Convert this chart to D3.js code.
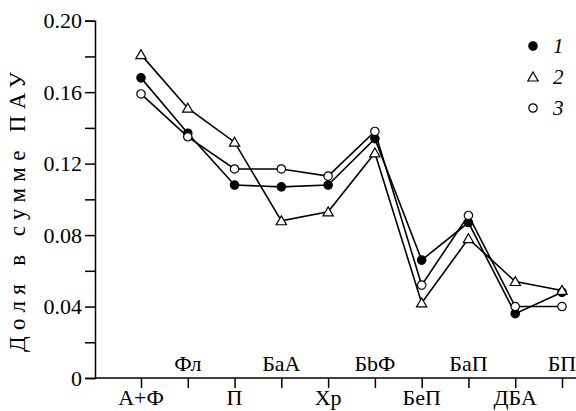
<!DOCTYPE html>
<html>
<head>
<meta charset="utf-8">
<script src="https://cdn.jsdelivr.net/npm/d3@7"></script>
<style>
  body { margin: 0; background: #fff; }
  svg { display: block; }
  svg text { font-family: 'Liberation Serif', 'DejaVu Serif', serif !important; fill: #000; }
</style>
</head>
<body>
<svg></svg>
<script>
var categories = ['А+Ф', 'Фл', 'П', 'БаА', 'Хр', 'БbФ', 'БеП', 'БаП', 'ДБА', 'БП'];
var series1 = [0.168, 0.137, 0.108, 0.107, 0.108, 0.134, 0.066, 0.087, 0.036, 0.048];
var series2 = [0.181, 0.151, 0.132, 0.088, 0.093, 0.126, 0.042, 0.078, 0.054, 0.049];
var series3 = [0.159, 0.135, 0.117, 0.117, 0.113, 0.138, 0.052, 0.091, 0.040, 0.040];
var seriesNames = ['1', '2', '3'];
var yMajorTicks = [0, 0.04, 0.08, 0.12, 0.16, 0.20];
var yTickLabels = ['0', '0.04', '0.08', '0.12', '0.16', '0.20'];
var yMinorTicks = [0.02, 0.06, 0.10, 0.14, 0.18];

var width = 576, height = 411;
var svg = d3.select('svg').attr('width', width).attr('height', height);

var x = d3.scalePoint()
  .domain(categories)
  .range([141, 562]);

var y = d3.scaleLinear()
  .domain([0, 0.2])
  .range([378, 20.7]);

// y axis
var yAxis = svg.append('g')
  .attr('transform', 'translate(95,0)')
  .call(d3.axisLeft(y).tickValues(yMajorTicks).tickSize(10).tickPadding(3)
    .tickFormat(function(d, i) { return yTickLabels[i]; }));
svg.append('g')
  .attr('transform', 'translate(95,0)')
  .call(d3.axisLeft(y).tickValues(yMinorTicks).tickSize(10).tickFormat(''))
  .select('.domain').remove();

// x axis
var xAxis = svg.append('g')
  .attr('transform', 'translate(0,378)')
  .call(d3.axisBottom(x).tickSize(10).tickSizeOuter(0).tickFormat(''));
xAxis.select('.domain').attr('d', 'M95,0H576');

svg.selectAll('.domain, .tick line').attr('stroke', '#000').attr('stroke-width', 1.5);
yAxis.selectAll('.tick text').attr('font-size', 22);

svg.append('g').selectAll('text.xlab')
  .data(categories)
  .enter().append('text')
  .attr('class', 'xlab')
  .attr('x', function(d) { return x(d); })
  .attr('y', function(d, i) { return i % 2 === 0 ? 405 : 371; })
  .attr('text-anchor', 'middle')
  .attr('font-size', 22)
  .text(function(d) { return d; });

// y label
svg.append('text')
  .attr('transform', 'translate(25,212) rotate(-90)')
  .attr('text-anchor', 'middle')
  .attr('font-size', 23)
  .attr('textLength', 280)
  .attr('lengthAdjust', 'spacing')
  .text('Доля в сумме ПАУ');

var allSeries = [series1, series2, series3];

var line = d3.line()
  .x(function(d, i) { return x(categories[i]); })
  .y(function(d) { return y(d); });

svg.append('g').selectAll('path.line')
  .data(allSeries)
  .enter().append('path')
  .attr('class', 'line')
  .attr('d', line)
  .attr('fill', 'none')
  .attr('stroke', '#000')
  .attr('stroke-width', 1.6);

var triangle = d3.symbol().type(d3.symbolTriangle).size(46);

function drawMarker(sel, k) {
  if (k === 1) {
    sel.append('path')
      .attr('d', triangle)
      .attr('transform', 'translate(0,1)')
      .attr('fill', '#fff')
      .attr('stroke', '#000')
      .attr('stroke-width', 1.2);
  } else {
    sel.append('circle')
      .attr('r', 4.2)
      .attr('fill', k === 0 ? '#000' : '#fff')
      .attr('stroke', '#000')
      .attr('stroke-width', 1.2);
  }
}

allSeries.forEach(function(s, k) {
  var pts = svg.append('g').selectAll('g.pt')
    .data(s)
    .enter().append('g')
    .attr('class', 'pt')
    .attr('transform', function(d, i) { return 'translate(' + x(categories[i]) + ',' + y(d) + ')'; });
  drawMarker(pts, k);
});

// legend
var legendY = [46, 77, 108];
seriesNames.forEach(function(name, k) {
  var g = svg.append('g').attr('transform', 'translate(533,' + legendY[k] + ')');
  drawMarker(g, k);
  g.append('text')
    .attr('x', 20)
    .attr('y', 7)
    .attr('font-size', 21)
    .attr('font-style', 'italic')
    .text(name);
});
</script>
</body>
</html>
